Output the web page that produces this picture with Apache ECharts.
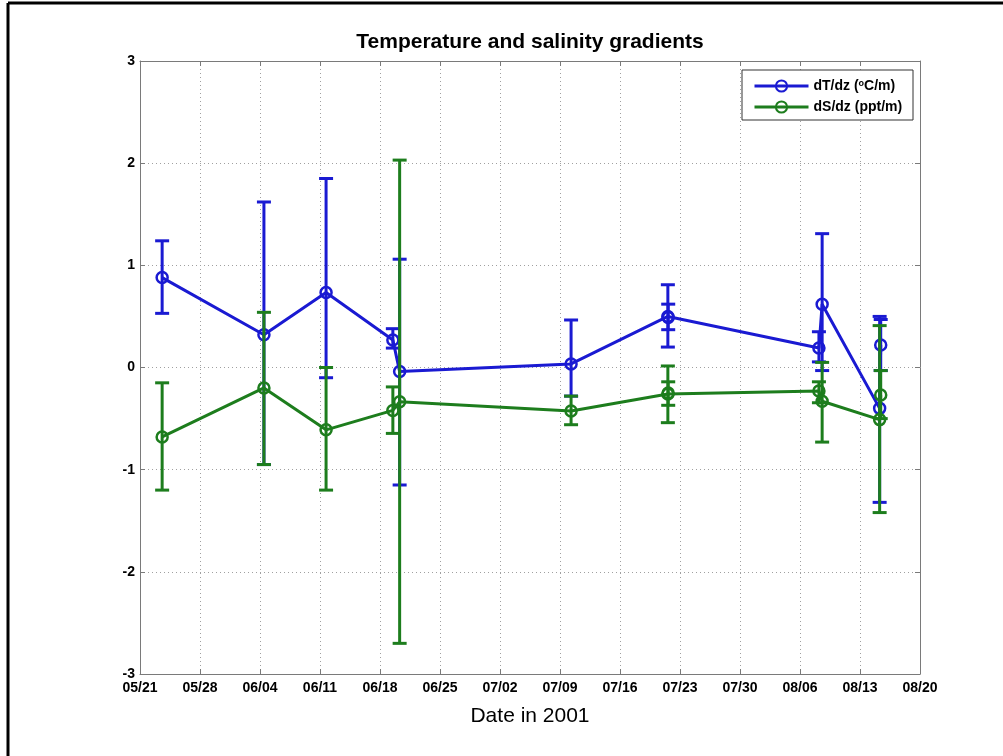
<!DOCTYPE html>
<html>
<head>
<meta charset="utf-8">
<script src="https://cdn.jsdelivr.net/npm/echarts@6/dist/echarts.min.js"></script>
<style>
html,body{margin:0;padding:0;background:#fff;}
#chart{width:1003px;height:756px;}
</style>
</head>
<body>
<div id="chart"></div>
<script>
// ---- data ----
const startDate = '2001-05-21T00:00:00Z';
const endDate = '2001-08-20T00:00:00Z';
const sampleTimes = [
  '2001-05-23T14:00', '2001-06-04T11:00', '2001-06-11T17:00', '2001-06-19T12:00',
  '2001-06-20T07:00', '2001-07-10T07:00', '2001-07-21T14:00', '2001-07-21T15:00',
  '2001-08-08T05:00', '2001-08-08T14:00', '2001-08-15T07:00', '2001-08-15T10:00'
];
const dTdz     = [0.88, 0.32, 0.735, 0.27, -0.04, 0.035, 0.50, 0.49, 0.19, 0.62, -0.40, 0.22];
const dTdzLow  = [0.53, -0.95, -0.10, 0.19, -1.15, -0.28, 0.20, 0.37, 0.055, -0.03, -1.32, -0.03];
const dTdzHigh = [1.24, 1.62, 1.85, 0.38, 1.06, 0.465, 0.81, 0.62, 0.35, 1.31, 0.50, 0.47];
const dSdz     = [-0.68, -0.20, -0.61, -0.42, -0.335, -0.425, -0.26, -0.25, -0.23, -0.33, -0.51, -0.27];
const dSdzLow  = [-1.20, -0.95, -1.20, -0.645, -2.70, -0.56, -0.54, -0.37, -0.345, -0.73, -1.42, -0.50];
const dSdzHigh = [-0.15, 0.54, 0.0, -0.19, 2.03, -0.28, 0.015, -0.14, -0.14, 0.05, 0.41, -0.03];
const yTicks = [-3, -2, -1, 0, 1, 2, 3];
const titleText = 'Temperature and salinity gradients';
const xAxisTitle = 'Date in 2001';
const seriesNames = ['dT/dz', 'dS/dz'];

// ---- helpers ----
const DAY = 86400000;
const t0 = Date.parse(startDate);
const toDay = s => (Date.parse(s + ':00Z') - t0) / DAY;
const days = sampleTimes.map(toDay);
const span = (Date.parse(endDate) - t0) / DAY;
const fmtDate = v => {
  const d = new Date(t0 + v * DAY);
  const mm = String(d.getUTCMonth() + 1).padStart(2, '0');
  const dd = String(d.getUTCDate()).padStart(2, '0');
  return mm + '/' + dd;
};

const BLUE = '#1a1ad2';
const GREEN = '#1d7d1d';
const FONT = "'Liberation Sans', Arial, sans-serif";

function errRender(color) {
  return function (params, api) {
    const x = api.value(0), lo = api.value(1), hi = api.value(2);
    const p1 = api.coord([x, lo]), p2 = api.coord([x, hi]);
    const w = 7;
    const st = { stroke: color, lineWidth: 3 };
    return {
      type: 'group',
      children: [
        { type: 'line', shape: { x1: p1[0], y1: p1[1], x2: p2[0], y2: p2[1] }, style: st },
        { type: 'line', shape: { x1: p1[0] - w, y1: p1[1], x2: p1[0] + w, y2: p1[1] }, style: st },
        { type: 'line', shape: { x1: p2[0] - w, y1: p2[1], x2: p2[0] + w, y2: p2[1] }, style: st }
      ]
    };
  };
}

const chart = echarts.init(document.getElementById('chart'));
const axisGray = '#7a7a7a';
const tickStyle = { show: true, inside: true, length: 5, lineStyle: { color: axisGray } };
const lineStyleAxis = { show: true, onZero: false, lineStyle: { color: axisGray, width: 1 } };
chart.setOption({
  animation: false,
  backgroundColor: '#fff',
  grid: { left: 140, right: 83, top: 61, bottom: 82, show: false },
  xAxis: [{
    type: 'value', min: 0, max: span, interval: 7, position: 'bottom',
    name: xAxisTitle, nameLocation: 'middle', nameGap: 32,
    nameTextStyle: { fontFamily: FONT, fontSize: 21, color: '#000' },
    axisLine: lineStyleAxis,
    axisTick: tickStyle,
    axisLabel: { formatter: fmtDate, fontFamily: FONT, fontWeight: 'bold', fontSize: 14, color: '#000', margin: 7 },
    splitLine: { show: true, lineStyle: { color: '#a0a0a0', type: [1, 3], width: 1 } }
  }, {
    type: 'value', min: 0, max: span, interval: 7, position: 'top',
    axisLine: lineStyleAxis,
    axisTick: tickStyle,
    axisLabel: { show: false }, splitLine: { show: false }
  }],
  yAxis: [{
    type: 'value', min: yTicks[0], max: yTicks[yTicks.length - 1], interval: 1, position: 'left',
    axisLine: lineStyleAxis,
    axisTick: tickStyle,
    axisLabel: { fontFamily: FONT, fontWeight: 'bold', fontSize: 14, color: '#000', margin: 5 },
    splitLine: { show: true, lineStyle: { color: '#a0a0a0', type: [1, 3], width: 1 } }
  }, {
    type: 'value', min: yTicks[0], max: yTicks[yTicks.length - 1], interval: 1, position: 'right',
    axisLine: lineStyleAxis,
    axisTick: tickStyle,
    axisLabel: { show: false }, splitLine: { show: false }
  }],
  legend: {
    data: seriesNames, z: 50,
    orient: 'vertical', left: 748, top: 74, itemGap: 7,
    itemWidth: 54, itemHeight: 14,
    lineStyle: { width: 3 },
    textStyle: {
      fontFamily: FONT, fontWeight: 'bold', fontSize: 14, color: '#000',
      rich: {
        a: { fontFamily: FONT, fontWeight: 'bold', fontSize: 14, color: '#000' },
        s: { fontFamily: FONT, fontWeight: 'bold', fontSize: 9, color: '#000', verticalAlign: 'top', lineHeight: 9 }
      }
    },
    formatter: function (name) {
      if (name === 'dT/dz') return '{a|dT/dz (}{s|o}{a|C/m)}';
      return '{a|dS/dz (ppt/m)}';
    }
  },
  graphic: [
    { type: 'line', shape: { x1: 8, y1: 3, x2: 1003, y2: 3 }, style: { stroke: '#000', lineWidth: 3 } },
    { type: 'line', shape: { x1: 8, y1: 3, x2: 8, y2: 756 }, style: { stroke: '#000', lineWidth: 3 } },
    { type: 'rect', shape: { x: 742, y: 70, width: 171, height: 50 }, style: { fill: '#fff', stroke: '#333', lineWidth: 1 }, z: 5 },
    { type: 'text', x: 530, y: 42, style: { text: titleText, fontFamily: FONT, fontWeight: 'bold', fontSize: 21, fill: '#000', textAlign: 'center', textVerticalAlign: 'middle' } }
  ],
  series: [
    {
      name: 'dT/dz err', type: 'custom', renderItem: errRender(BLUE), z: 2,
      encode: { x: 0, y: [1, 2] },
      data: days.map((d, i) => [d, dTdzLow[i], dTdzHigh[i]])
    },
    {
      name: 'dT/dz', type: 'line', z: 3,
      data: days.map((d, i) => [d, dTdz[i]]),
      lineStyle: { color: BLUE, width: 3 },
      itemStyle: { color: 'rgba(255,255,255,0)', borderColor: BLUE, borderWidth: 2.5 },
      color: BLUE,
      symbol: 'circle', symbolSize: 11, showAllSymbol: true
    },
    {
      name: 'dS/dz err', type: 'custom', renderItem: errRender(GREEN), z: 4,
      encode: { x: 0, y: [1, 2] },
      data: days.map((d, i) => [d, dSdzLow[i], dSdzHigh[i]])
    },
    {
      name: 'dS/dz', type: 'line', z: 5,
      data: days.map((d, i) => [d, dSdz[i]]),
      lineStyle: { color: GREEN, width: 3 },
      itemStyle: { color: 'rgba(255,255,255,0)', borderColor: GREEN, borderWidth: 2.5 },
      color: GREEN,
      symbol: 'circle', symbolSize: 11, showAllSymbol: true
    }
  ]
});
</script>
</body>
</html>
